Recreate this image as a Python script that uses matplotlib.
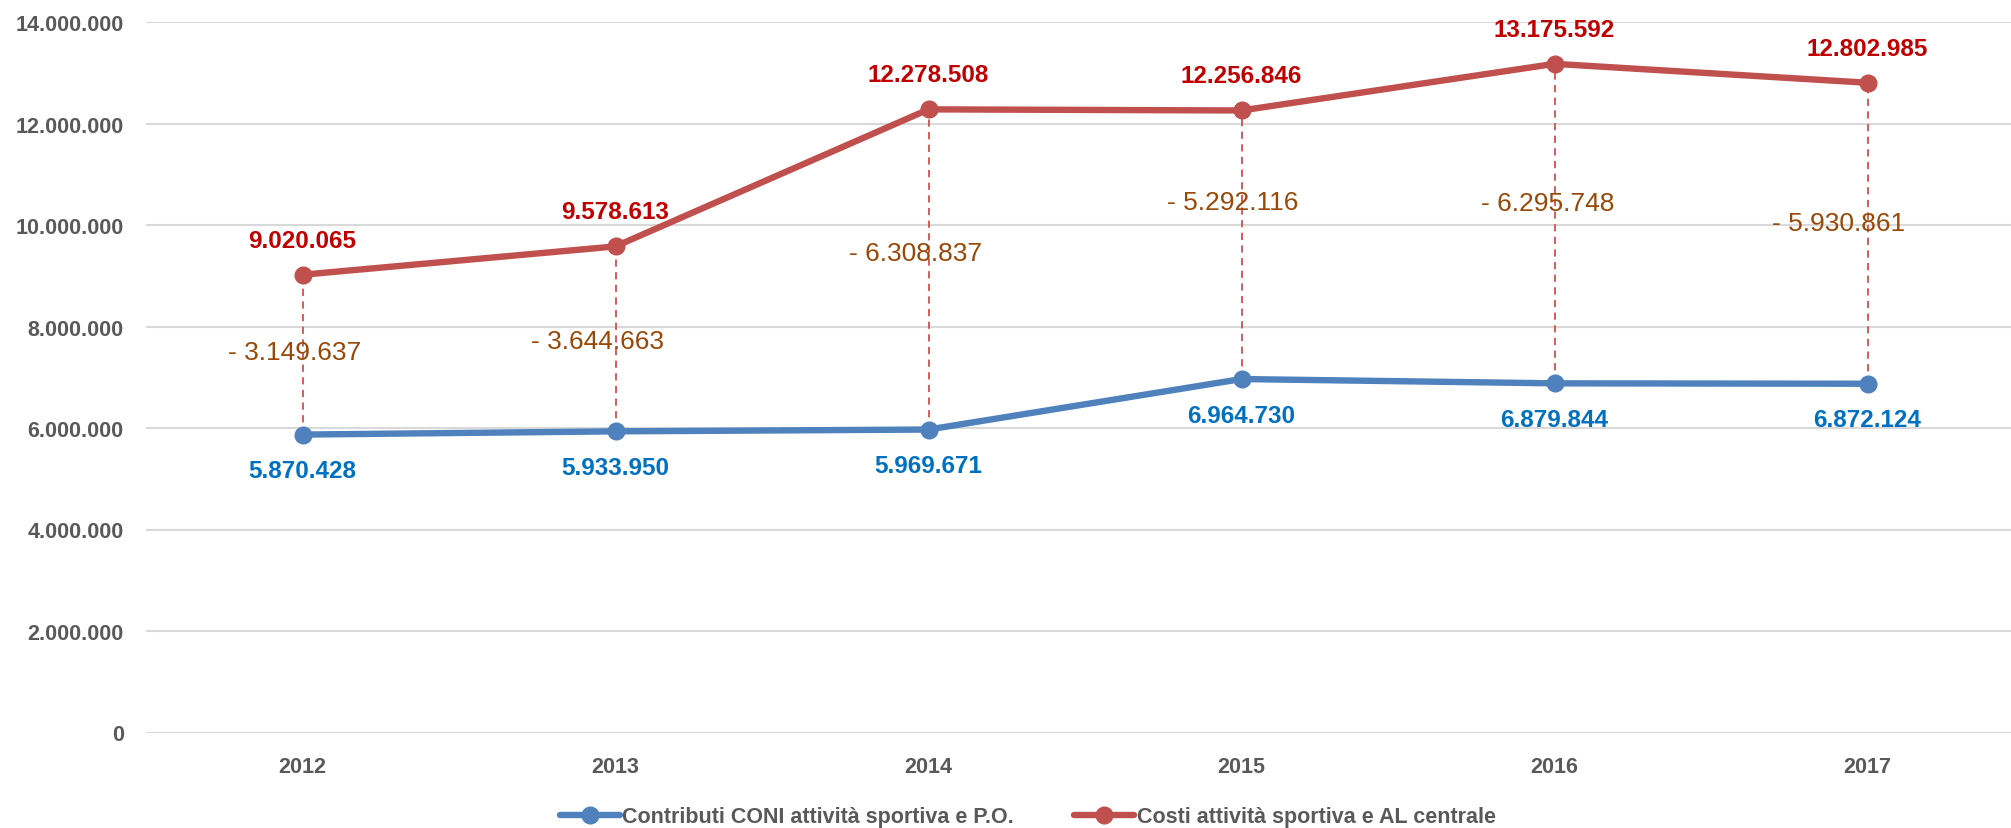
import matplotlib
matplotlib.use("Agg")
import matplotlib.pyplot as plt
from matplotlib.ticker import FuncFormatter

# ---- data ----
years = ["2012", "2013", "2014", "2015", "2016", "2017"]
contributi = [5870428, 5933950, 5969671, 6964730, 6879844, 6872124]
costi = [9020065, 9578613, 12278508, 12256846, 13175592, 12802985]
series_names = ["Contributi CONI attività sportiva e P.O.",
                "Costi attività sportiva e AL centrale"]
y_ticks = [0, 2000000, 4000000, 6000000, 8000000, 10000000, 12000000, 14000000]

# ---- layout for difference labels (y in data units, x offset in points) ----
diff_label_y = [7.50e6, 7.72e6, 9.45e6, 10.45e6, 10.43e6, 10.04e6]
diff_label_dx = [-6, -13, -9, -6, -5, -21]


def it_fmt(v):
    s = f"{abs(int(round(v))):,}".replace(",", ".")
    return s


NUM_FONT = ["Liberation Sans", "DejaVu Sans"]
TXT_FONT = ["Liberation Sans Narrow", "Liberation Sans", "DejaVu Sans"]

BLUE = "#4F81BD"
RED = "#C0504D"
GREY = "#595959"

W, H = 2011, 829
fig = plt.figure(figsize=(W / 100, H / 100), dpi=100)
left_px, right_px, bottom_px, top_px = 146, 2011, 95.5, 806
ax = fig.add_axes([left_px / W, bottom_px / H, (right_px - left_px) / W, (top_px - bottom_px) / H])

x = list(range(len(years)))
ax.set_xlim(-0.5, -0.5 + (right_px - left_px) / 313.0)
ax.set_ylim(0, 14000000)

for sp in ax.spines.values():
    sp.set_visible(False)
ax.set_yticks(y_ticks)
ax.yaxis.set_major_formatter(FuncFormatter(lambda v, p: it_fmt(v)))
ax.set_xticks(x)
ax.set_xticklabels(years)
ax.tick_params(axis="both", length=0, colors=GREY)
ax.tick_params(axis="y", pad=16)
ax.tick_params(axis="x", pad=17)
for lab in ax.get_xticklabels() + ax.get_yticklabels():
    lab.set_fontfamily(NUM_FONT)
    lab.set_fontweight("bold")
    lab.set_fontsize(15.5)
    lab.set_color(GREY)
ax.grid(axis="y", color="#D9D9D9", linewidth=1.5)
ax.set_axisbelow(True)

# drop lines between series
ax.vlines(x, contributi, costi, colors="#D0504F", linewidth=1.3,
          linestyles=(0, (4, 3)), zorder=2)

ax.plot(x, contributi, color=BLUE, linewidth=4.6, marker="o", markersize=12,
        label=series_names[0], zorder=3, solid_capstyle="round")
ax.plot(x, costi, color=RED, linewidth=4.6, marker="o", markersize=12,
        label=series_names[1], zorder=3, solid_capstyle="round")

for xi, v in zip(x, costi):
    ax.annotate(it_fmt(v), (xi, v), xytext=(0, 25), textcoords="offset points",
                ha="center", va="center", color="#C00000", fontsize=17.5,
                fontweight="bold", family=NUM_FONT)
for xi, v in zip(x, contributi):
    ax.annotate(it_fmt(v), (xi, v), xytext=(0, -26), textcoords="offset points",
                ha="center", va="center", color="#0070C0", fontsize=17.5,
                fontweight="bold", family=NUM_FONT)
for xi, a, b, ly, dx in zip(x, contributi, costi, diff_label_y, diff_label_dx):
    d = a - b
    txt = ("- " if d < 0 else "") + it_fmt(d)
    ax.annotate(txt, (xi, ly), xytext=(dx, 0), textcoords="offset points",
                ha="center", va="center", color="#984807", fontsize=19,
                family=NUM_FONT)

leg = fig.legend(loc="center", bbox_to_anchor=(0.511, 11 / H), ncol=2,
                 frameon=False, handlelength=2.8, handletextpad=0.1,
                 columnspacing=2.8, prop={"family": TXT_FONT, "weight": "bold", "size": 15.5})
for t in leg.get_texts():
    t.set_color(GREY)

fig.savefig("out.png", dpi=100)
